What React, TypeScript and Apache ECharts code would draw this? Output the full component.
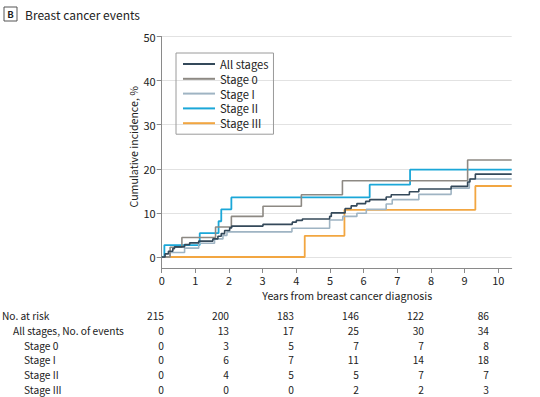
import React, { useEffect, useRef } from 'react';
import * as echarts from 'echarts';

const FONT = '"Noto Sans CJK SC", Lato, sans-serif';
const TEXT = '#222';

const seriesNames = ['All stages', 'Stage 0', 'Stage I', 'Stage II', 'Stage III'];
const seriesColors = ['#34495a', '#8d8983', '#9fb4c3', '#1ba7d8', '#f2a641'];
const seriesWidths = [1.6, 1.6, 1.6, 1.8, 1.8];

const allStages = [
  [0, 0], [0.1, 0.7], [0.2, 1.3], [0.33, 1.9], [0.38, 2.3], [0.68, 2.8], [0.83, 3.2],
  [1.1, 3.6], [1.52, 4.1], [1.67, 4.7], [1.77, 5.3], [1.87, 6.0], [2.02, 6.6], [2.08, 7.0],
  [3.01, 7.4], [3.88, 7.9], [4.0, 8.3], [4.18, 8.6], [4.99, 9.2], [5.04, 10.0], [5.45, 11.0],
  [5.63, 11.6], [5.8, 12.1], [6.06, 12.6], [6.18, 13.0], [6.67, 13.6], [6.82, 14.1],
  [7.36, 14.8], [7.64, 15.4], [8.6, 16.0], [9.09, 17.0], [9.16, 17.7], [9.32, 18.8], [10.4, 18.8],
];
const stage0 = [
  [0, 0], [0.25, 2.2], [0.6, 4.4], [1.6, 6.8], [2.07, 9.2], [3.01, 11.5], [4.15, 14.1],
  [5.37, 17.3], [9.09, 22.0], [10.4, 22.0],
];
const stageI = [
  [0, 0], [0.24, 1.0], [0.68, 2.0], [1.1, 3.1], [1.57, 4.1], [1.82, 4.9], [1.94, 5.7],
  [3.87, 6.5], [4.99, 8.4], [5.38, 9.2], [5.8, 9.9], [6.08, 10.8], [6.67, 12.0], [6.85, 13.0],
  [7.64, 14.2], [8.6, 15.6], [9.14, 17.7], [10.4, 17.7],
];
const stageII = [
  [0, 0], [0.08, 2.7], [1.13, 5.4], [1.69, 8.1], [1.77, 10.8], [2.07, 13.5], [6.18, 16.4],
  [7.38, 19.8], [10.4, 19.8],
];
const stageIII = [
  [0, 0], [4.25, 4.8], [5.43, 10.7], [9.32, 16.1], [10.4, 16.1],
];
const seriesData = [allStages, stage0, stageI, stageII, stageIII];

const xTicks = [0, 1, 2, 3, 4, 5, 6, 7, 8, 9, 10];
const yTicks = [0, 10, 20, 30, 40, 50];

const riskRowLabels = ['No. at risk', 'All stages, No. of events', 'Stage 0', 'Stage I', 'Stage II', 'Stage III'];
const riskRowIndent = [2, 13, 24, 24, 24, 24];
const noAtRisk = [215, 200, 183, 146, 122, 86];
const eventsAll = [0, 13, 17, 25, 30, 34];
const events0 = [0, 3, 5, 7, 7, 8];
const eventsI = [0, 6, 7, 11, 14, 18];
const eventsII = [0, 4, 5, 5, 7, 7];
const eventsIII = [0, 0, 0, 2, 2, 3];
const riskRows = [noAtRisk, eventsAll, events0, eventsI, eventsII, eventsIII];

export default function App() {
  const ref = useRef<HTMLDivElement>(null);
  useEffect(() => {
    const chart = echarts.init(ref.current!, null, { renderer: 'svg' });

    const tableTexts: any[] = [];
    const rowTop = 315.5;
    const rowStep = 14.8;
    const colRight0 = 164;
    const colStep = 65;
    riskRowLabels.forEach((lab, r) => {
      tableTexts.push({
        type: 'text', x: riskRowIndent[r], y: rowTop + r * rowStep,
        style: { text: lab, fontFamily: FONT, fontSize: 10.2, fill: TEXT, textAlign: 'left', textVerticalAlign: 'middle' },
      });
      riskRows[r].forEach((v, c) => {
        tableTexts.push({
          type: 'text', x: colRight0 + c * colStep, y: rowTop + r * rowStep,
          style: { text: String(v), fontFamily: FONT, fontSize: 10.2, fill: TEXT, textAlign: 'right', textVerticalAlign: 'middle' },
        });
      });
    });

    const option: any = {
      animation: false,
      backgroundColor: '#fff',
      textStyle: { fontFamily: FONT },
      grid: { left: 161.7, right: 28.3, top: 36.5, bottom: 129, containLabel: false },
      legend: {
        data: seriesNames,
        icon: 'rect',
        orient: 'vertical',
        left: 176,
        top: 53,
        itemWidth: 32,
        itemHeight: 2,
        itemGap: 0.8,
        padding: [4, 5, 4, 7],
        borderColor: '#9a9a9a',
        borderWidth: 1,
        textStyle: { fontFamily: FONT, fontSize: 11.2, color: TEXT, lineHeight: 14 },
      },
      xAxis: {
        type: 'value', min: 0, max: 10.4,
        axisLine: { onZero: false, lineStyle: { color: '#8a8a8a', width: 1 } },
        axisTick: { show: true, customValues: xTicks, length: 5, lineStyle: { color: '#8a8a8a' } },
        axisLabel: { customValues: xTicks, fontFamily: FONT, fontSize: 11, color: TEXT, margin: 6 },
        splitLine: { show: false },
        name: 'Years from breast cancer diagnosis',
        nameLocation: 'middle',
        nameGap: 22,
        nameMoveOverlap: false,
        nameTextStyle: { fontFamily: FONT, fontSize: 10.6, color: TEXT, padding: [0, 0, 0, 21] },
      },
      yAxis: {
        type: 'value', min: -2.5, max: 50,
        axisLine: { show: true, lineStyle: { color: '#8a8a8a', width: 1 } },
        axisTick: { show: true, customValues: yTicks, length: 5, lineStyle: { color: '#8a8a8a' } },
        axisLabel: { customValues: yTicks, fontFamily: FONT, fontSize: 11, color: TEXT, margin: 6 },
        splitLine: { show: true, lineStyle: { color: '#e2e2e2', width: 1 } },
        name: 'Cumulative incidence, %',
        nameLocation: 'middle',
        nameGap: 23,
        nameMoveOverlap: false,
        nameTextStyle: { fontFamily: FONT, fontSize: 10.6, color: TEXT, padding: [0, 0, 0, 11] },
      },
      series: seriesNames.map((name, i) => ({
        type: 'line',
        name,
        data: seriesData[i],
        step: 'end',
        symbol: 'none',
        z: 2 + (4 - i),
        lineStyle: { color: seriesColors[i], width: seriesWidths[i] },
        itemStyle: { color: seriesColors[i] },
      })),
      graphic: [
        { type: 'rect', shape: { x: 4, y: 7, width: 13, height: 14 }, style: { fill: '#fff', stroke: '#555', lineWidth: 1 } },
        { type: 'text', x: 10.5, y: 14, style: { text: 'B', fontFamily: FONT, fontSize: 9.5, fontWeight: 'bold', fill: TEXT, textAlign: 'center', textVerticalAlign: 'middle' } },
        { type: 'text', x: 25, y: 14, style: { text: 'Breast cancer events', fontFamily: FONT, fontSize: 12, fill: TEXT, textAlign: 'left', textVerticalAlign: 'middle' } },
        ...tableTexts,
      ],
    };
    chart.setOption(option);
    return () => chart.dispose();
  }, []);
  return <div ref={ref} style={{ position: 'absolute', left: 0, top: 0, width: 540, height: 397 }} />;
}
